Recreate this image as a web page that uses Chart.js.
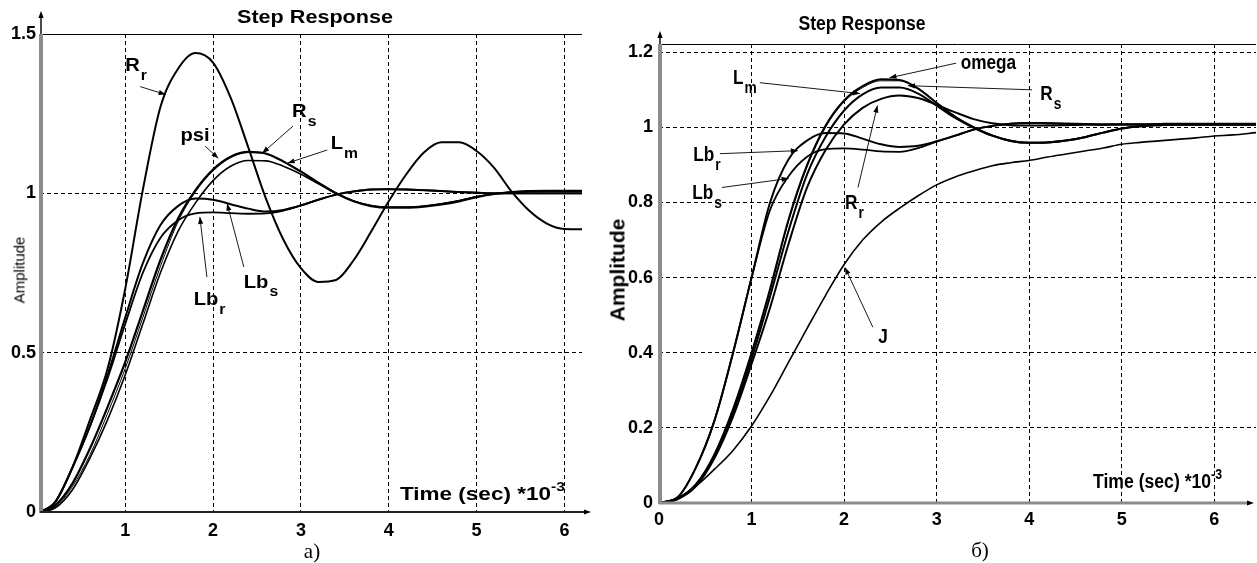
<!DOCTYPE html>
<html>
<head>
<meta charset="utf-8">
<script src="https://cdn.jsdelivr.net/npm/chart.js@4.4.1/dist/chart.umd.min.js"></script>
<style>
  body { margin:0; background:#fff; }
  #page { position:relative; width:1257px; height:563px; overflow:hidden; background:#fff; color:#000;
          font-family:"Liberation Sans", Arial, sans-serif; }
  .box { position:absolute; }
  .txt { position:absolute; white-space:nowrap; line-height:1; }
  .bold { font-weight:bold; }
  .ser { font-family:"Liberation Serif","Times New Roman",serif; }
  sup { font-size:70%; vertical-align:top; position:relative; top:-4px; }
</style>
</head>
<body>
<div id="page">
  <div class="box" style="left:0;top:0;width:600px;height:563px"><canvas id="chartA"></canvas></div>
  <div class="box" style="left:600px;top:0;width:657px;height:563px"><canvas id="chartB"></canvas></div>

  <div class="txt bold" style="left:315px;top:17px;font-size:18px;transform:translate(-50%,-50%) scaleX(1.2)">Step Response</div>
  <div class="txt" style="left:19px;top:270px;font-size:15px;transform:translate(-50%,-50%) rotate(-90deg)">Amplitude</div>
  <div class="txt bold" style="left:400px;top:485px;font-size:18px;transform-origin:0 50%;transform:scaleX(1.25)">Time (sec) *10<sup>-3</sup></div>
  <div class="txt ser" style="left:312px;top:551px;font-size:21px;transform:translate(-50%,-50%)">а)</div>

  <div class="txt bold" style="left:862px;top:23px;font-size:20px;transform:translate(-50%,-50%) scaleX(0.88)">Step Response</div>
  <div class="txt bold" style="left:617px;top:270px;font-size:21px;transform:translate(-50%,-50%) rotate(-90deg)">Amplitude</div>
  <div class="txt bold" style="left:1093px;top:471px;font-size:20px;transform-origin:0 50%;transform:scaleX(0.88)">Time (sec) *10<sup>-3</sup></div>
  <div class="txt ser" style="left:980px;top:550px;font-size:21px;transform:translate(-50%,-50%)">б)</div>
</div>

<script>
// ── Panel а): step responses, time in ms ──
const tA   = [0.03,0.2,0.4,0.6,0.8,1.0,1.2,1.4,1.6,1.8,2.0,2.2,2.4,2.6,2.8,3.0,3.2,3.4,3.6,3.8,4.0,4.2,4.4,4.6,4.8,5.0,5.2,5.4,5.6,5.8,6.0,6.2];
const aRr  = [0,0.03,0.14,0.29,0.45,0.70,1.01,1.27,1.39,1.44,1.41,1.30,1.145,0.985,0.855,0.765,0.722,0.728,0.79,0.88,0.975,1.06,1.128,1.16,1.16,1.133,1.08,1.005,0.945,0.905,0.888,0.887];
const aRs  = [0,0.02,0.09,0.20,0.33,0.47,0.63,0.79,0.92,1.01,1.075,1.115,1.13,1.125,1.10,1.068,1.033,1.0,0.975,0.96,0.955,0.955,0.958,0.965,0.975,0.988,0.998,1.004,1.007,1.008,1.008,1.008];
const aPsi = [0,0.015,0.08,0.18,0.31,0.45,0.61,0.77,0.91,1.005,1.07,1.112,1.128,1.124,1.10,1.07,1.035,1.002,0.976,0.961,0.956,0.956,0.96,0.968,0.978,0.99,0.999,1.004,1.007,1.008,1.008,1.008];
const aLm  = [0,0.012,0.07,0.17,0.29,0.43,0.59,0.75,0.88,0.97,1.04,1.085,1.103,1.102,1.085,1.06,1.03,1.0,0.976,0.962,0.957,0.957,0.96,0.967,0.977,0.989,0.998,1.004,1.007,1.008,1.008,1.008];
const aLbs = [0,0.03,0.14,0.27,0.43,0.61,0.78,0.90,0.96,0.984,0.98,0.966,0.952,0.943,0.948,0.962,0.98,0.996,1.006,1.012,1.013,1.012,1.01,1.007,1.004,1.002,1.0,1.0,1.0,1.0,1.0,1.0];
const aLbr = [0,0.03,0.14,0.27,0.42,0.59,0.75,0.86,0.915,0.937,0.94,0.938,0.936,0.937,0.946,0.962,0.98,0.996,1.006,1.012,1.013,1.012,1.01,1.007,1.004,1.002,1.0,1.0,1.0,1.0,1.0,1.0];
const xTicksA = [1,2,3,4,5,6];
const yTicksA = [0,0.5,1,1.5];

// ── Panel б) ──
const tB     = [0,0.2,0.4,0.6,0.8,1.0,1.2,1.4,1.6,1.8,2.0,2.2,2.4,2.6,2.8,3.0,3.2,3.4,3.6,3.8,4.0,4.2,4.4,4.6,4.8,5.0,5.2,5.4,5.6,5.8,6.0,6.2,6.45];
const bOmega = [0,0.012,0.05,0.13,0.25,0.40,0.57,0.755,0.90,1.005,1.072,1.11,1.128,1.126,1.103,1.065,1.028,1.0,0.978,0.964,0.959,0.96,0.965,0.974,0.986,0.997,1.003,1.006,1.008,1.008,1.008,1.008,1.008];
const bRs    = [0,0.012,0.05,0.13,0.25,0.40,0.565,0.75,0.895,1.0,1.068,1.106,1.124,1.124,1.104,1.067,1.03,1.002,0.98,0.966,0.96,0.961,0.966,0.975,0.987,0.997,1.003,1.006,1.008,1.008,1.008,1.008,1.008];
const bLm    = [0,0.011,0.048,0.125,0.24,0.385,0.55,0.725,0.875,0.975,1.045,1.088,1.106,1.106,1.09,1.058,1.025,0.999,0.978,0.964,0.959,0.96,0.965,0.974,0.986,0.997,1.003,1.006,1.008,1.008,1.008,1.008,1.008];
const bRr    = [0,0.01,0.045,0.12,0.23,0.37,0.52,0.69,0.84,0.94,1.008,1.052,1.076,1.085,1.078,1.06,1.04,1.022,1.011,1.006,1.005,1.005,1.006,1.007,1.007,1.008,1.008,1.009,1.01,1.01,1.01,1.01,1.01];
const bLbr   = [0,0.015,0.095,0.22,0.40,0.60,0.80,0.915,0.965,0.985,0.984,0.97,0.955,0.948,0.951,0.963,0.978,0.994,1.004,1.01,1.012,1.011,1.01,1.009,1.008,1.008,1.008,1.008,1.008,1.008,1.008,1.008,1.008];
const bLbs   = [0,0.015,0.095,0.22,0.40,0.60,0.78,0.87,0.922,0.942,0.944,0.941,0.936,0.935,0.945,0.962,0.978,0.994,1.004,1.01,1.012,1.011,1.01,1.009,1.008,1.008,1.008,1.008,1.008,1.008,1.008,1.008,1.008];
const bJ     = [0,0.012,0.045,0.09,0.14,0.205,0.285,0.375,0.465,0.553,0.635,0.70,0.748,0.785,0.818,0.847,0.868,0.884,0.898,0.906,0.912,0.921,0.929,0.937,0.945,0.955,0.96,0.964,0.968,0.972,0.977,0.98,0.986];
const xTicksB = [0,1,2,3,4,5,6];
const yTicksB = [0,0.2,0.4,0.6,0.8,1,1.2];

const FONT_A = 'bold 18px "Liberation Sans", Arial, sans-serif';
const FONT_A_SUB = 'bold 14px "Liberation Sans", Arial, sans-serif';
const FONT_B = 'bold 20px "Liberation Sans", Arial, sans-serif';
const FONT_B_SUB = 'bold 16px "Liberation Sans", Arial, sans-serif';

// curve labels with pointer lines, in data units
const marksA = [
  { t:1.00, v:1.400, main:'R',   sub:'r', from:[1.17,1.335], to:[1.46,1.31] },
  { t:1.63, v:1.180, main:'psi', sub:'',  from:[1.91,1.148], to:[2.06,1.11] },
  { t:2.90, v:1.255, main:'R',   sub:'s', from:[2.91,1.211], to:[2.56,1.126] },
  { t:3.34, v:1.155, main:'L',   sub:'m', from:[3.30,1.136], to:[2.85,1.095] },
  { t:1.78, v:0.665, main:'Lb',  sub:'r', from:[1.93,0.737], to:[1.85,0.926] },
  { t:2.35, v:0.720, main:'Lb',  sub:'s', from:[2.35,0.769], to:[2.16,0.968] }
];
const marksB = [
  { t:3.26, v:1.169, main:'omega', sub:'', from:[3.21,1.171], to:[2.49,1.132] },
  { t:4.12, v:1.087, main:'R',  sub:'s', from:[4.03,1.100], to:[2.69,1.111] },
  { t:0.80, v:1.129, main:'L',  sub:'m', from:[1.09,1.119], to:[2.17,1.090] },
  { t:0.37, v:0.925, main:'Lb', sub:'r', from:[0.66,0.930], to:[1.50,0.938] },
  { t:0.36, v:0.824, main:'Lb', sub:'s', from:[0.68,0.840], to:[1.40,0.864] },
  { t:2.01, v:0.797, main:'R',  sub:'r', from:[2.15,0.840], to:[2.36,1.058] },
  { t:2.37, v:0.441, main:'J',  sub:'',  from:[2.31,0.468], to:[2.01,0.627] }
];

function pts(t, y) { return t.map((v, i) => ({ x:v, y:y[i] })); }
function series(t, y, w) {
  return { data:pts(t, y), borderColor:'#000', borderWidth:w, pointRadius:0,
           cubicInterpolationMode:'monotone', fill:false };
}
function fmt(v) { return String(Math.round(v * 10) / 10); }

function arrowHead(ctx, x0, y0, x1, y1) {
  const a = Math.atan2(y1 - y0, x1 - x0), L = 7, W = 2.6;
  ctx.beginPath();
  ctx.moveTo(x1, y1);
  ctx.lineTo(x1 - L * Math.cos(a) + W * Math.sin(a), y1 - L * Math.sin(a) - W * Math.cos(a));
  ctx.lineTo(x1 - L * Math.cos(a) - W * Math.sin(a), y1 - L * Math.sin(a) + W * Math.cos(a));
  ctx.closePath();
  ctx.fill();
}

// text squeezed or stretched sideways, like the scanned original
function wideText(ctx, s, x, y, sx) {
  ctx.save(); ctx.translate(x, y); ctx.scale(sx, 1); ctx.fillText(s, 0, 0); ctx.restore();
  return ctx.measureText(s).width * sx;
}

// frame, axes with arrows, curve labels
const decor = {
  id:'decor',
  afterDraw(chart, args, o) {
    const { ctx, chartArea:a, scales:{ x, y } } = chart;
    ctx.save();
    ctx.fillStyle = '#000';
    // solid top border
    ctx.strokeStyle = '#000'; ctx.lineWidth = 1;
    ctx.beginPath(); ctx.moveTo(a.left, a.top + 0.5); ctx.lineTo(a.right, a.top + 0.5); ctx.stroke();
    // y axis: grey bar + thin arrow above
    ctx.strokeStyle = '#8c8c8c'; ctx.lineWidth = 4;
    ctx.beginPath(); ctx.moveTo(a.left + 1, a.bottom + 1); ctx.lineTo(a.left + 1, a.top); ctx.stroke();
    ctx.strokeStyle = '#000'; ctx.lineWidth = 1.4;
    ctx.beginPath(); ctx.moveTo(a.left + 1, a.top); ctx.lineTo(a.left + 1, o.yTip + 4); ctx.stroke();
    arrowHead(ctx, a.left + 1, a.top, a.left + 1, o.yTip);
    // x axis + arrow
    ctx.strokeStyle = o.xColor; ctx.lineWidth = o.xWidth;
    ctx.beginPath(); ctx.moveTo(a.left, a.bottom); ctx.lineTo(o.xTip - 4, a.bottom); ctx.stroke();
    arrowHead(ctx, a.left, a.bottom, o.xTip, a.bottom);
    // labels
    ctx.textBaseline = 'middle'; ctx.textAlign = 'left';
    ctx.lineWidth = 0.9; ctx.strokeStyle = '#000';
    o.marks.forEach(m => {
      const px = x.getPixelForValue(m.t), py = y.getPixelForValue(m.v);
      ctx.font = o.font;
      const w = wideText(ctx, m.main, px, py, o.sx);
      if (m.sub) {
        ctx.font = o.subFont;
        wideText(ctx, m.sub, px + w + 1, py + 10, o.sx);
      }
      const x0 = x.getPixelForValue(m.from[0]), y0 = y.getPixelForValue(m.from[1]);
      const x1 = x.getPixelForValue(m.to[0]),   y1 = y.getPixelForValue(m.to[1]);
      ctx.beginPath(); ctx.moveTo(x0, y0); ctx.lineTo(x1, y1); ctx.stroke();
      arrowHead(ctx, x0, y0, x1, y1);
    });
    ctx.restore();
  }
};

function axes(cfg) {
  const gridColor = c => (c.tick && cfg.hide.includes(c.tick.value)) ? 'rgba(0,0,0,0)' : '#000';
  const tickFont = { family:'"Liberation Sans", Arial, sans-serif', size:18, weight:'bold' };
  return {
    x:{ type:'linear', min:cfg.xmin, max:cfg.xmax,
        afterBuildTicks:s => { s.ticks = cfg.xt.map(v => ({ value:v })); },
        afterFit:s => { s.height = cfg.xh; },
        grid:{ color:c => (c.tick && c.tick.value === 0) ? 'rgba(0,0,0,0)' : '#000', lineWidth:1, drawTicks:false },
        border:{ display:false, dash:[4,3] },
        ticks:{ color:'#000', padding:cfg.xpad, font:tickFont, maxRotation:0, autoSkip:false, callback:v => fmt(v) } },
    y:{ type:'linear', min:0, max:cfg.ymax,
        afterBuildTicks:s => { s.ticks = cfg.yt.map(v => ({ value:v })); },
        afterFit:s => { s.width = cfg.yw; },
        grid:{ color:gridColor, lineWidth:1, drawTicks:false },
        border:{ display:false, dash:[4,3] },
        ticks:{ color:'#000', padding:cfg.ypad, font:tickFont, autoSkip:false, callback:v => fmt(v) } }
  };
}

const common = { responsive:true, maintainAspectRatio:false, animation:false, devicePixelRatio:1 };

new Chart(document.getElementById('chartA'), {
  type:'line',
  data:{ datasets:[
    series(tA, aRr, 2), series(tA, aRs, 2.2), series(tA, aPsi, 1), series(tA, aLm, 1.6),
    series(tA, aLbs, 2), series(tA, aLbr, 1.8)
  ]},
  options:Object.assign({}, common, {
    layout:{ padding:{ left:0, top:34, right:18, bottom:0 } },
    plugins:{ legend:{ display:false }, tooltip:{ enabled:false },
      decor:{ marks:marksA, font:FONT_A, subFont:FONT_A_SUB, sx:1.12, yTip:11, xTip:591, xColor:'#222', xWidth:2 } },
    scales:axes({ xmin:0.03, xmax:6.2, xt:xTicksA, yt:yTicksA,
                  ymax:1.5, hide:[0, 1.5], xh:51, yw:40, xpad:8, ypad:4 })
  }),
  plugins:[decor]
});

new Chart(document.getElementById('chartB'), {
  type:'line',
  data:{ datasets:[
    series(tB, bOmega, 2), series(tB, bRs, 1), series(tB, bLm, 2), series(tB, bRr, 2),
    series(tB, bLbr, 2), series(tB, bLbs, 1.8), series(tB, bJ, 1.6)
  ]},
  options:Object.assign({}, common, {
    layout:{ padding:{ left:0, top:44, right:1, bottom:0 } },
    plugins:{ legend:{ display:false }, tooltip:{ enabled:false },
      decor:{ marks:marksB, font:FONT_B, subFont:FONT_B_SUB, sx:0.86, yTip:31, xTip:654, xColor:'#8c8c8c', xWidth:3 } },
    scales:axes({ xmin:0, xmax:6.45, xt:xTicksB, yt:yTicksB,
                  ymax:1.222, hide:[0], xh:60, yw:59, xpad:6, ypad:6 })
  }),
  plugins:[decor]
});
</script>
</body>
</html>
